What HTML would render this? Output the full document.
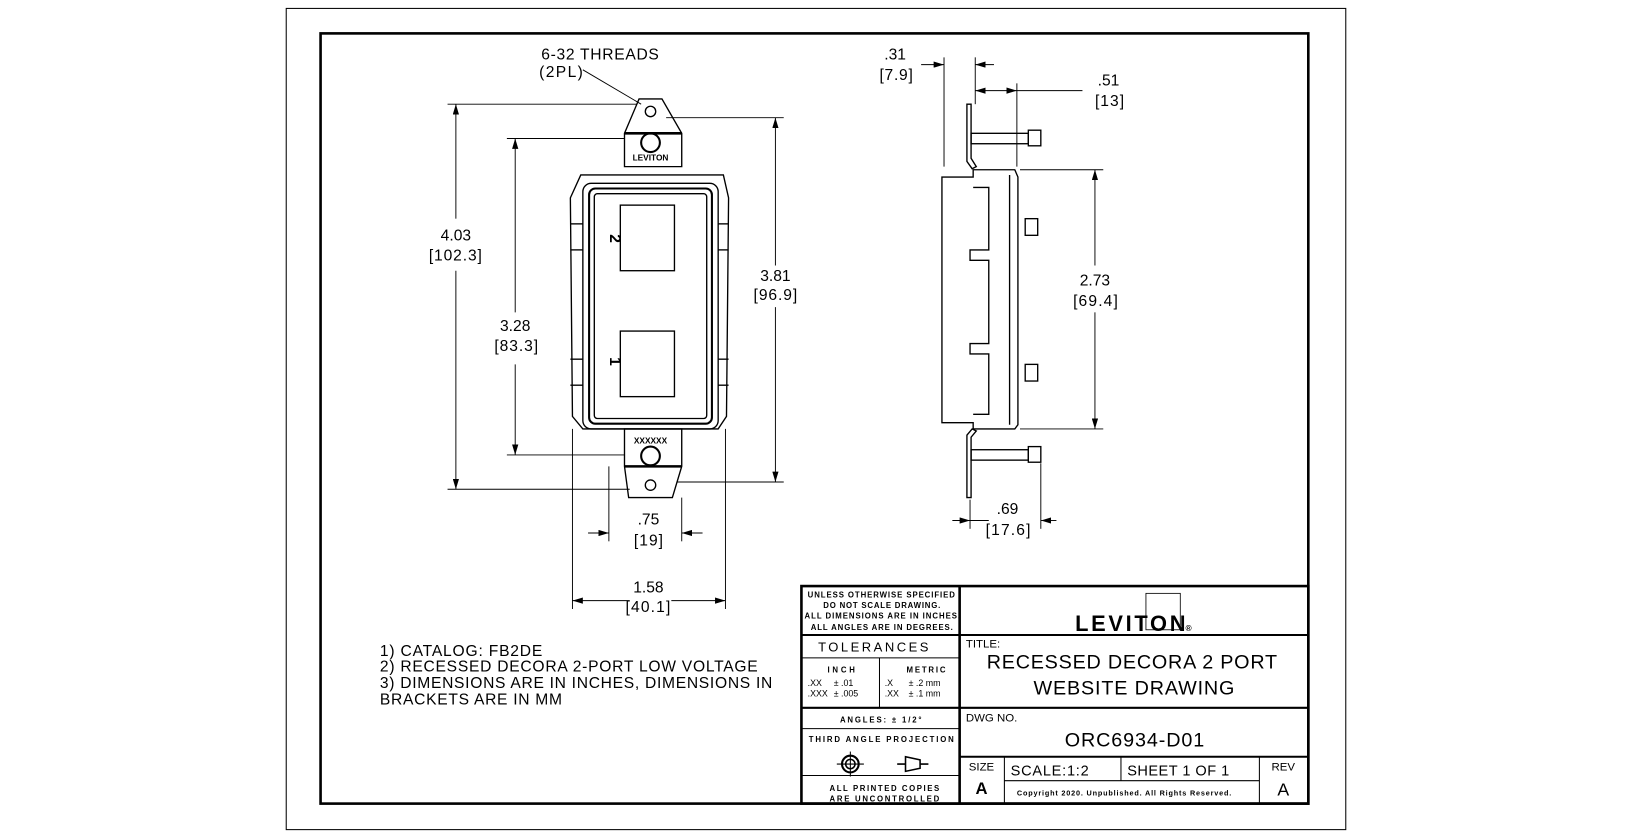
<!DOCTYPE html>
<html><head><meta charset="utf-8"><style>
html,body{margin:0;padding:0;background:#fff;}
svg{display:block;}
text{font-family:"Liberation Sans",sans-serif;fill:#000;}
</style></head><body>
<svg width="1632" height="837" viewBox="0 0 1568 804" xmlns="http://www.w3.org/2000/svg">
<defs>
<marker id="a" viewBox="0 0 10 6" refX="10" refY="3" markerWidth="10" markerHeight="6" orient="auto-start-reverse" markerUnits="userSpaceOnUse"><path d="M0,0L10,3L0,6z" fill="#000"/></marker>
</defs>
<rect x="275" y="8" width="1018" height="789" fill="none" stroke="#000" stroke-width="1"/>
<rect x="308" y="32" width="949" height="740" fill="none" stroke="#000" stroke-width="2.5"/>

<g fill="none" stroke="#000" stroke-width="1.3">
<path d="M614,95 L636,95 L655,128 L655,160 L600,160 L600,128 Z"/>
<line x1="600" y1="128" x2="655" y2="128" stroke-width="2.5"/>
<circle cx="625" cy="107" r="5"/>
<circle cx="625" cy="137" r="9" stroke-width="2"/>
<path d="M600,412 L655,412 L655,448 L646,478 L604,478 L600,448 Z"/>
<line x1="600" y1="448" x2="655" y2="448" stroke-width="2.5"/>
<circle cx="625" cy="466" r="5"/>
<circle cx="625" cy="438" r="9" stroke-width="2"/>
<path d="M558,168 L695,168 L700,190 L698,400 L690,412 L560,412 L550,400 L548,190 Z"/>
<rect x="560" y="176" width="130" height="236" rx="8"/>
<rect x="566" y="181" width="118" height="226" rx="6" stroke-width="2"/>
<rect x="571" y="186" width="108" height="216" rx="3"/>
<rect x="596" y="197" width="52" height="63"/>
<rect x="596" y="318" width="52" height="63"/>
<line x1="548" y1="215" x2="560" y2="215"/><line x1="548" y1="240" x2="560" y2="240"/>
<line x1="548" y1="345" x2="560" y2="345"/><line x1="548" y1="370" x2="560" y2="370"/>
<line x1="690" y1="215" x2="700" y2="215"/><line x1="690" y1="240" x2="700" y2="240"/>
<line x1="690" y1="345" x2="700" y2="345"/><line x1="690" y1="370" x2="700" y2="370"/>
<path d="M905,170 L935,170 L935,163 L975,163 L978,170 L978,408 L975,412 L935,412 L935,406 L905,406 Z"/>
<path d="M935,180 L950,180 L950,240 L932,240 L932,250 L950,250 L950,330 L932,330 L932,340 L950,340 L950,398 L935,398"/>
<line x1="970" y1="168" x2="970" y2="408"/>
<rect x="985" y="210" width="12" height="16"/><rect x="985" y="350" width="12" height="16"/>
<path d="M929,100 L933,100 L933,152 L938,160 L934,162 L929,155 Z"/>
<rect x="933" y="128" width="55" height="10"/><rect x="988" y="125" width="12" height="15"/>
<path d="M929,478 L933,478 L933,420 L938,414 L934,412 L929,418 Z"/>
<rect x="933" y="432" width="55" height="10"/><rect x="988" y="429" width="12" height="15"/>
</g>
<text x="586" y="225" font-size="15" font-weight="bold" transform="rotate(90 586 225)">2</text>
<text x="586" y="343" font-size="15" font-weight="bold" transform="rotate(90 586 343)">1</text>
<text x="625" y="154" font-size="8" font-weight="bold" text-anchor="middle">LEVITON</text>
<text x="625" y="426" font-size="8" font-weight="bold" text-anchor="middle">XXXXXX</text>

<g stroke="#000" stroke-width="0.9" fill="none">
<line x1="430" y1="100" x2="612" y2="100"/><line x1="430" y1="470" x2="605" y2="470"/>
<line x1="487" y1="133" x2="600" y2="133"/><line x1="487" y1="437" x2="600" y2="437"/>
<line x1="640" y1="113" x2="753" y2="113"/><line x1="650" y1="463" x2="753" y2="463"/>
<line x1="585" y1="448" x2="585" y2="520"/><line x1="655" y1="478" x2="655" y2="520"/>
<line x1="550" y1="412" x2="550" y2="585"/><line x1="697" y1="412" x2="697" y2="585"/>
<line x1="907" y1="55" x2="907" y2="160"/><line x1="937" y1="55" x2="937" y2="100"/>
<line x1="977" y1="80" x2="977" y2="160"/>
<line x1="980" y1="163" x2="1060" y2="163"/><line x1="980" y1="412" x2="1060" y2="412"/>
<line x1="932" y1="480" x2="932" y2="508"/><line x1="1000" y1="445" x2="1000" y2="508"/>
<line x1="560" y1="67" x2="616" y2="100"/>
<line x1="438" y1="100" x2="438" y2="210" marker-start="url(#a)"/><line x1="438" y1="260" x2="438" y2="470" marker-end="url(#a)"/>
<line x1="495" y1="133" x2="495" y2="300" marker-start="url(#a)"/><line x1="495" y1="350" x2="495" y2="437" marker-end="url(#a)"/>
<line x1="745" y1="113" x2="745" y2="255" marker-start="url(#a)"/><line x1="745" y1="295" x2="745" y2="463" marker-end="url(#a)"/>
<line x1="565" y1="512" x2="585" y2="512" marker-end="url(#a)"/><line x1="675" y1="512" x2="655" y2="512" marker-end="url(#a)"/>
<line x1="550" y1="577" x2="605" y2="577" marker-start="url(#a)"/><line x1="645" y1="577" x2="697" y2="577" marker-end="url(#a)"/>
<line x1="885" y1="62" x2="907" y2="62" marker-end="url(#a)"/><line x1="955" y1="62" x2="937" y2="62" marker-end="url(#a)"/>
<line x1="937" y1="87" x2="977" y2="87" marker-start="url(#a)" marker-end="url(#a)"/><line x1="977" y1="87" x2="1040" y2="87"/>
<line x1="1052" y1="163" x2="1052" y2="255" marker-start="url(#a)"/><line x1="1052" y1="300" x2="1052" y2="412" marker-end="url(#a)"/>
<line x1="915" y1="500" x2="932" y2="500" marker-end="url(#a)"/><line x1="1015" y1="500" x2="1000" y2="500" marker-end="url(#a)"/><line x1="932" y1="500" x2="950" y2="500"/>
</g>
<g font-size="15">
<text x="520" y="57" textLength="113">6-32 THREADS</text><text x="518" y="74" textLength="42">(2PL)</text>
<text x="438" y="231" text-anchor="middle">4.03</text><text x="412" y="250" textLength="51">[102.3]</text>
<text x="495" y="318" text-anchor="middle">3.28</text><text x="475" y="337" textLength="42">[83.3]</text>
<text x="745" y="270" text-anchor="middle">3.81</text><text x="724" y="288" textLength="42">[96.9]</text>
<text x="623" y="504" text-anchor="middle">.75</text><text x="609" y="524" textLength="28">[19]</text>
<text x="623" y="569" text-anchor="middle">1.58</text><text x="601" y="588" textLength="43">[40.1]</text>
<text x="860" y="57" text-anchor="middle">.31</text><text x="845" y="77" textLength="32">[7.9]</text>
<text x="1065" y="82" text-anchor="middle">.51</text><text x="1052" y="102" textLength="28">[13]</text>
<text x="1052" y="274" text-anchor="middle">2.73</text><text x="1031" y="294" textLength="43">[69.4]</text>
<text x="968" y="494" text-anchor="middle">.69</text><text x="947" y="514" textLength="43">[17.6]</text>
<text x="365" y="630" textLength="156">1) CATALOG: FB2DE</text>
<text x="365" y="645" textLength="363">2) RECESSED DECORA 2-PORT LOW VOLTAGE</text>
<text x="365" y="661" textLength="377">3) DIMENSIONS ARE IN INCHES, DIMENSIONS IN</text>
<text x="365" y="677" textLength="175">BRACKETS ARE IN MM</text>
</g>

<g fill="none" stroke="#000">
<rect x="770" y="563" width="487" height="209" stroke-width="2.5"/>
<line x1="922" y1="563" x2="922" y2="772" stroke-width="2.5"/>
<line x1="922" y1="610" x2="1257" y2="610" stroke-width="2"/>
<line x1="922" y1="680" x2="1257" y2="680" stroke-width="2"/>
<line x1="922" y1="727" x2="1257" y2="727" stroke-width="2"/>
<line x1="770" y1="610" x2="922" y2="610" stroke-width="2"/>
<line x1="770" y1="632" x2="922" y2="632" stroke-width="1"/>
<line x1="770" y1="680" x2="922" y2="680" stroke-width="2"/>
<line x1="770" y1="700" x2="922" y2="700" stroke-width="1"/>
<line x1="770" y1="745" x2="922" y2="745" stroke-width="1"/>
<line x1="845" y1="632" x2="845" y2="680" stroke-width="1"/>
<line x1="965" y1="727" x2="965" y2="772" stroke-width="1"/>
<line x1="1077" y1="727" x2="1077" y2="750" stroke-width="1"/>
<line x1="965" y1="750" x2="1210" y2="750" stroke-width="1"/>
<line x1="1210" y1="727" x2="1210" y2="772" stroke-width="1"/>
<rect x="1101" y="570" width="33" height="35" stroke-width="0.8"/>
<circle cx="817" cy="734" r="8" stroke-width="2"/><circle cx="817" cy="734" r="4.5" stroke-width="1.5"/>
<line x1="804" y1="734" x2="830" y2="734"/><line x1="817" y1="722" x2="817" y2="746"/>
<path d="M862,734 L870,734 M870,727 L870,741 L884,738 L884,730 Z M884,734 L892,734" stroke-width="1.5"/>
</g>
<g font-size="7.5" font-weight="bold" letter-spacing="0.6">
<text x="776" y="574" textLength="142">UNLESS OTHERWISE SPECIFIED</text>
<text x="791" y="584" textLength="113">DO NOT SCALE DRAWING.</text>
<text x="773" y="594" textLength="150">ALL DIMENSIONS ARE IN INCHES.</text>
<text x="779" y="605" textLength="137">ALL ANGLES ARE IN DEGREES.</text>
<text x="795" y="646" textLength="27">INCH</text><text x="871" y="646" textLength="38">METRIC</text>
<text x="807" y="694" textLength="79">ANGLES: ± 1/2°</text>
<text x="777" y="713" textLength="140">THIRD ANGLE PROJECTION</text>
<text x="797" y="760" textLength="106">ALL PRINTED COPIES</text>
<text x="797" y="770" textLength="106">ARE UNCONTROLLED</text>
</g>
<g font-size="8.5">
<text x="776" y="659">.XX</text><text x="801" y="659">±  .01</text>
<text x="776" y="669">.XXX</text><text x="801" y="669">±  .005</text>
<text x="850" y="659">.X</text><text x="873" y="659">± .2 mm</text>
<text x="850" y="669">.XX</text><text x="873" y="669">± .1 mm</text>
</g>
<text x="786" y="626" font-size="12.5" textLength="106">TOLERANCES</text>
<text x="1033" y="606" font-size="21" font-weight="bold" textLength="106">LEVITON</text>
<text x="1139" y="606" font-size="8" font-weight="bold">®</text>
<text x="928" y="622" font-size="11">TITLE:</text>
<text x="948" y="642" font-size="19" textLength="279">RECESSED DECORA 2 PORT</text>
<text x="993" y="667" font-size="19" textLength="193">WEBSITE DRAWING</text>
<text x="928" y="693" font-size="11">DWG NO.</text>
<text x="1023" y="717" font-size="19" textLength="134">ORC6934-D01</text>
<text x="943" y="740" font-size="11" text-anchor="middle">SIZE</text>
<text x="943" y="763" font-size="16" font-weight="bold" text-anchor="middle">A</text>
<text x="971" y="745" font-size="14" textLength="75">SCALE:1:2</text>
<text x="1083" y="745" font-size="14" textLength="98">SHEET 1 OF 1</text>
<text x="1233" y="740" font-size="11" text-anchor="middle">REV</text>
<text x="1233" y="764" font-size="17" text-anchor="middle">A</text>
<text x="977" y="764" font-size="7" font-weight="bold" textLength="206">Copyright 2020. Unpublished. All Rights Reserved.</text>
</svg>
</body></html>
